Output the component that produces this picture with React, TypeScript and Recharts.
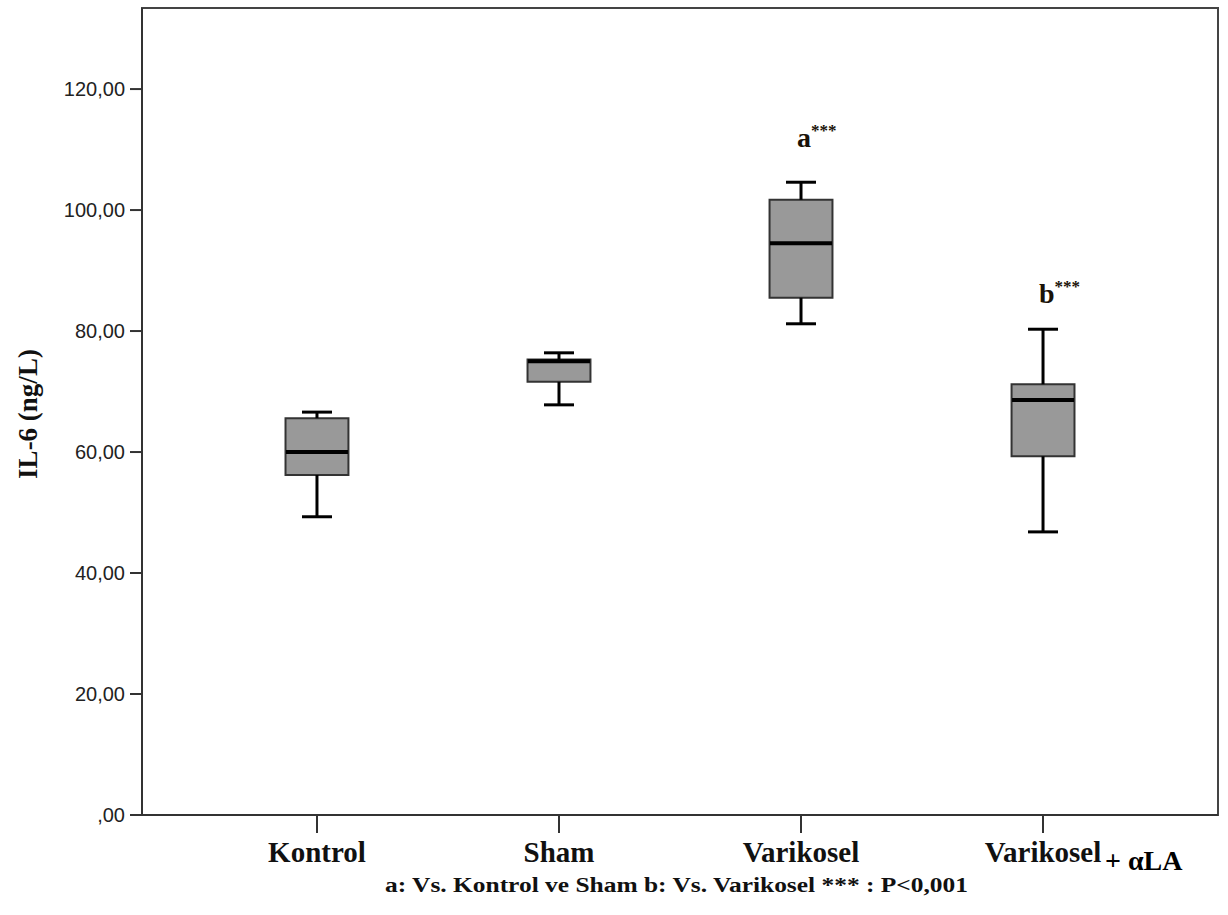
import React from 'react';
import {
  ComposedChart,
  XAxis,
  YAxis,
  Scatter,
  ReferenceArea,
  ReferenceLine,
  ReferenceDot,
} from 'recharts';

// Group labels and box plot statistics (IL-6, ng/L)
const groups = ['Kontrol', 'Sham', 'Varikosel', 'Varikosel'];
const whiskerLow = [49.3, 67.8, 81.2, 46.8];
const q1 = [56.2, 71.6, 85.5, 59.3];
const medians = [60.0, 75.0, 94.5, 68.6];
const q3 = [65.6, 75.3, 101.7, 71.2];
const whiskerHigh = [66.6, 76.4, 104.6, 80.3];

// Significance marks placed above groups
const markGroup = [2, 3];
const markLetter = ['a', 'b'];
const markValue = [110.4, 84.6];

const yTicks = [0, 20, 40, 60, 80, 100, 120];
const yMax = 133.4;
const xDomain: [number, number] = [-0.723, 3.723];

const BOX_HALF = 0.13;
const CAP_HALF = 0.062;

const serif = '"Liberation Serif", "Times New Roman", serif';
const sans = '"Liberation Sans", Arial, sans-serif';

const medianData = medians.map((m, i) => ({ x: i, y: m }));

const fmtY = (v: number) => (v === 0 ? ',00' : v.toFixed(2).replace('.', ','));

const YTick = (props: any) => {
  const { x, y, payload } = props;
  return (
    <text x={x} y={y} dy={7} textAnchor="end" fontFamily={sans} fontSize={20} fill="#222">
      {fmtY(payload.value)}
    </text>
  );
};

const XTick = (props: any) => {
  const { x, y, payload } = props;
  const i = payload.value as number;
  return (
    <g>
      <text x={x} y={y + 27} textAnchor="middle" fontFamily={serif} fontWeight="bold" fontSize={29} fill="#111">
        {groups[i]}
      </text>
      {i === 3 && (
        <text x={x + 62} y={y + 35} textAnchor="start" fontFamily={serif} fontWeight="bold" fontSize={28} fill="#000">
          {'+\u00a0αLA'}
        </text>
      )}
    </g>
  );
};

const MedianShape = (props: any) => {
  const { cx, cy } = props;
  return <line x1={cx - 31} x2={cx + 31} y1={cy} y2={cy} stroke="#000" strokeWidth={4} />;
};

export default function App() {
  return (
    <div style={{ position: 'absolute', left: 0, top: 0, background: '#fff' }}>
      <ComposedChart width={1228} height={915} margin={{ top: 8, right: 10, left: 60, bottom: 0 }}>
        <XAxis
          type="number"
          dataKey="x"
          domain={xDomain}
          ticks={[0, 1, 2, 3]}
          allowDataOverflow
          height={100}
          tickSize={18}
          tickMargin={2}
          tick={<XTick />}
          axisLine={{ stroke: '#333', strokeWidth: 2 }}
          tickLine={{ stroke: '#333', strokeWidth: 2 }}
        />
        <YAxis
          type="number"
          domain={[0, yMax]}
          ticks={yTicks}
          allowDataOverflow
          width={82}
          tickSize={12}
          tickMargin={5}
          tick={<YTick />}
          axisLine={{ stroke: '#333', strokeWidth: 2 }}
          tickLine={{ stroke: '#333', strokeWidth: 2 }}
          label={{
            value: 'IL-6 (ng/L)',
            angle: -90,
            position: 'insideLeft',
            content: () => (
              <text
                x={28}
                y={414}
                transform="rotate(-90, 28, 414)"
                textAnchor="middle"
                dominantBaseline="central"
                fontFamily={serif}
                fontWeight="bold"
                fontSize={27}
                fill="#111"
              >
                IL-6 (ng/L)
              </text>
            ),
          }}
        />

        {/* plot frame */}
        <ReferenceArea
          x1={xDomain[0]}
          x2={xDomain[1]}
          y1={0}
          y2={yMax}
          fill="none"
          fillOpacity={0}
          stroke="#444"
          strokeWidth={2}
          ifOverflow="visible"
        />

        {/* whiskers */}
        {groups.map((g, i) => (
          <ReferenceLine
            key={`wh-${i}`}
            segment={[{ x: i, y: q3[i] }, { x: i, y: whiskerHigh[i] }]}
            stroke="#000"
            strokeWidth={3}
          />
        ))}
        {groups.map((g, i) => (
          <ReferenceLine
            key={`wl-${i}`}
            segment={[{ x: i, y: q1[i] }, { x: i, y: whiskerLow[i] }]}
            stroke="#000"
            strokeWidth={3}
          />
        ))}
        {groups.map((g, i) => (
          <ReferenceLine
            key={`ch-${i}`}
            segment={[{ x: i - CAP_HALF, y: whiskerHigh[i] }, { x: i + CAP_HALF, y: whiskerHigh[i] }]}
            stroke="#000"
            strokeWidth={3}
          />
        ))}
        {groups.map((g, i) => (
          <ReferenceLine
            key={`cl-${i}`}
            segment={[{ x: i - CAP_HALF, y: whiskerLow[i] }, { x: i + CAP_HALF, y: whiskerLow[i] }]}
            stroke="#000"
            strokeWidth={3}
          />
        ))}

        {/* boxes */}
        {groups.map((g, i) => (
          <ReferenceArea
            key={`box-${i}`}
            x1={i - BOX_HALF}
            x2={i + BOX_HALF}
            y1={q1[i]}
            y2={q3[i]}
            fill="#999999"
            fillOpacity={1}
            stroke="#333"
            strokeWidth={2}
          />
        ))}

        {/* medians */}
        <Scatter data={medianData} dataKey="y" shape={<MedianShape />} isAnimationActive={false} />

        {/* significance marks */}
        {markGroup.map((gi, k) => (
          <ReferenceDot
            key={`mk-${k}`}
            x={gi}
            y={markValue[k]}
            r={0}
            shape={(p: any) => (
              <text x={p.cx - 4} y={p.cy} fontFamily={serif} fontWeight="bold" fontSize={28} fill="#1a1208">
                {markLetter[k]}
                <tspan dy={-11} fontSize={17}>
                  ***
                </tspan>
              </text>
            )}
          />
        ))}

        {/* footnote */}
        <text
          x={385}
          y={892}
          textLength={583}
          lengthAdjust="spacingAndGlyphs"
          fontFamily={serif}
          fontWeight="bold"
          fontSize={20}
          fill="#111"
        >
          a: Vs. Kontrol ve Sham b: Vs. Varikosel *** : P&lt;0,001
        </text>
      </ComposedChart>
    </div>
  );
}
